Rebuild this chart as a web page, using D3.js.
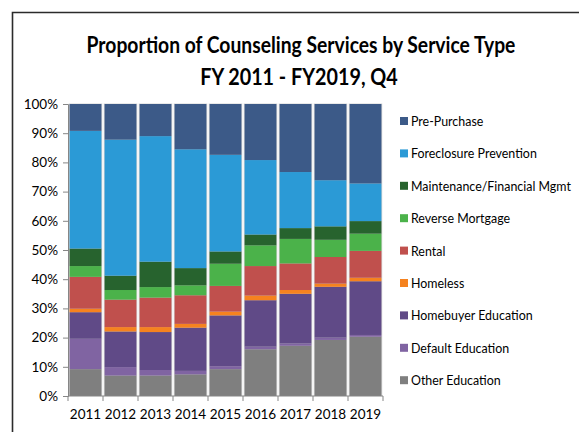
<!DOCTYPE html>
<html>
<head>
<meta charset="utf-8">
<script src="https://cdn.jsdelivr.net/npm/d3@7"></script>
<style>
    body { margin: 0; background: #fff; }
    text { font-family: Lato, "Open Sans", sans-serif; fill: #000; }
</style>
</head>
<body>
<svg id="chart"></svg>
<script>
// years along the x axis
const years = ["2011", "2012", "2013", "2014", "2015", "2016", "2017", "2018", "2019"];

// service types, bottom of the stack first
const serviceTypes = ["Other Education", "Default Education", "Homebuyer Education", "Homeless",
    "Rental", "Reverse Mortgage", "Maintenance/Financial Mgmt", "Foreclosure Prevention", "Pre-Purchase"];

// share of counseling (%) per year
const otherEducation      = [9.2, 7.0, 7.0, 7.4, 9.2, 16.0, 17.2, 19.2, 20.3];
const defaultEducation    = [10.4, 2.9, 1.9, 1.2, 1.0, 0.9, 0.8, 0.8, 0.6];
const homebuyerEducation  = [9.1, 12.2, 13.0, 14.8, 17.4, 15.9, 17.0, 17.4, 18.4];
const homeless            = [1.2, 1.5, 1.7, 1.3, 1.3, 1.6, 1.3, 1.1, 1.2];
const rental              = [10.9, 9.4, 10.1, 9.8, 8.8, 10.1, 9.1, 9.1, 9.2];
const reverseMortgage     = [3.7, 3.3, 3.6, 3.4, 7.6, 7.1, 8.4, 5.9, 5.9];
const maintenance         = [6.0, 4.9, 8.7, 5.9, 4.2, 3.7, 3.7, 4.6, 4.3];
const foreclosure         = [40.3, 46.6, 43.0, 40.7, 33.1, 25.5, 19.2, 15.8, 12.9];
const prePurchase         = [9.2, 12.2, 11.0, 15.5, 17.4, 19.2, 23.3, 26.1, 27.2];

const yTicks = [0, 0.1, 0.2, 0.3, 0.4, 0.5, 0.6, 0.7, 0.8, 0.9, 1];

const seriesValues = [otherEducation, defaultEducation, homebuyerEducation, homeless,
    rental, reverseMortgage, maintenance, foreclosure, prePurchase];

const colors = ["#7f7f7f", "#8064a2", "#604a87", "#f5821f", "#c0504d",
    "#4bb24a", "#27632e", "#2b9ad6", "#3c5a88"];

const width = 579;
const height = 432;
const marginLeft = 68;
const marginRight = 196;
const marginTop = 104;
const marginBottom = 36;

const svg = d3.select("#chart")
    .attr("width", width)
    .attr("height", height)
    .attr("viewBox", [0, 0, width, height]);

// the original uses a narrow face, so squeeze text horizontally around its anchor
const squeeze = (sel, factor) => sel.each(function() {
    const t = d3.select(this);
    const x = +t.attr("x"), y = +t.attr("y");
    t.attr("transform", `translate(${x},${y}) scale(${factor},1) translate(${-x},${-y})`);
});

// outer chart frame (runs off the right and bottom of the picture)
svg.append("path")
    .attr("d", `M12.5,${height + 2}V12.5H${width + 2}`)
    .attr("fill", "none")
    .attr("stroke", "#2b2b2b")
    .attr("stroke-width", 1.6);

svg.append("text")
    .attr("x", 301)
    .attr("y", 53)
    .attr("text-anchor", "middle")
    .style("font-size", "23px")
    .style("font-weight", "bold")
    .text("Proportion of Counseling Services by Service Type")
    .call(squeeze, 0.84);

svg.append("text")
    .attr("x", 299)
    .attr("y", 85)
    .attr("text-anchor", "middle")
    .style("font-size", "23px")
    .style("font-weight", "bold")
    .text("FY 2011 - FY2019, Q4")
    .call(squeeze, 0.86);

const table = years.map((year, i) => {
    const row = {year: year};
    serviceTypes.forEach((s, j) => row[s] = seriesValues[j][i]);
    return row;
});

const stacked = d3.stack()
    .keys(serviceTypes)
    .offset(d3.stackOffsetExpand)(table);

const xScale = d3.scaleBand(years, [marginLeft, width - marginRight])
    .paddingInner(0.09)
    .paddingOuter(0.045);
const yScale = d3.scaleLinear([0, 1], [height - marginBottom, marginTop]);

// light outline around each column
svg.append("g")
    .selectAll("rect")
    .data(years)
    .join("rect")
    .attr("x", d => xScale(d) - 0.8)
    .attr("y", yScale(1) - 0.5)
    .attr("width", xScale.bandwidth() + 1.6)
    .attr("height", yScale(0) - yScale(1) + 0.5)
    .attr("fill", "#d4d4d4");

svg.append("g")
    .selectAll("g")
    .data(stacked)
    .join("g")
    .attr("fill", (d, i) => colors[i])
    .selectAll("rect")
    .data(d => d)
    .join("rect")
    .attr("x", d => xScale(d.data.year))
    .attr("y", d => yScale(d[1]))
    .attr("width", xScale.bandwidth())
    .attr("height", d => yScale(d[0]) - yScale(d[1]));

const yAxis = d3.axisLeft(yScale)
    .tickValues(yTicks)
    .tickFormat(d3.format(".0%"))
    .tickSize(5)
    .tickPadding(5);

svg.append("g")
    .attr("transform", `translate(${marginLeft},0)`)
    .call(yAxis)
    .call(g => g.select(".domain").attr("stroke", "#868686"))
    .call(g => g.selectAll(".tick line").attr("stroke", "#868686"))
    .call(g => g.selectAll(".tick text").style("font-size", "13.5px").attr("fill", "#000"));

// x ticks sit on the band boundaries
const xAxisG = svg.append("g")
    .attr("transform", `translate(0,${height - marginBottom})`);

xAxisG.append("line")
    .attr("x1", marginLeft)
    .attr("x2", width - marginRight)
    .attr("stroke", "#868686");

xAxisG.selectAll(".xtick")
    .data(d3.range(years.length + 1))
    .join("line")
    .attr("class", "xtick")
    .attr("x1", i => marginLeft + i * xScale.step())
    .attr("x2", i => marginLeft + i * xScale.step())
    .attr("y2", 5)
    .attr("stroke", "#868686");

xAxisG.selectAll(".xlabel")
    .data(years)
    .join("text")
    .attr("class", "xlabel")
    .attr("x", d => xScale(d) + xScale.bandwidth() / 2)
    .attr("y", 23)
    .attr("text-anchor", "middle")
    .style("font-size", "13.5px")
    .text(d => d);

// legend, top entry first
const legendOrder = serviceTypes.slice().reverse();
const legend = svg.append("g")
    .selectAll("g")
    .data(legendOrder)
    .join("g")
    .attr("transform", (d, i) => `translate(400,${121 + i * 32.4})`);

legend.append("rect")
    .attr("x", 0)
    .attr("y", -4)
    .attr("width", 8)
    .attr("height", 8)
    .attr("fill", d => colors[serviceTypes.indexOf(d)]);

legend.append("text")
    .attr("x", 11)
    .attr("y", 5)
    .style("font-size", "13.5px")
    .text(d => d)
    .call(squeeze, 0.92);
</script>
</body>
</html>
